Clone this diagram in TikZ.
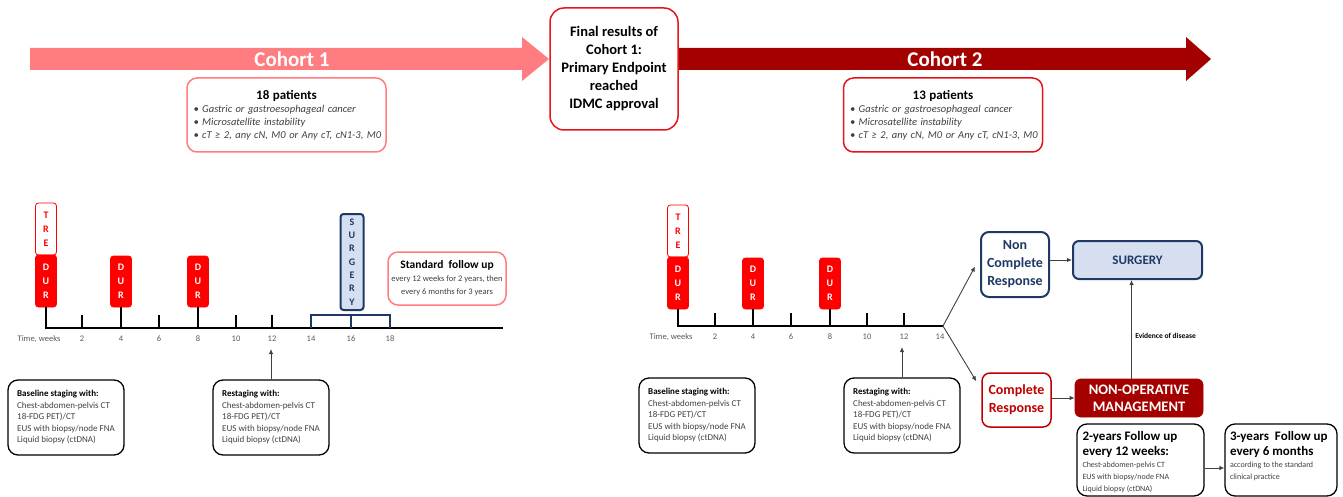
\documentclass[tikz,border=0pt]{standalone}
\usepackage{fontspec}
\setmainfont{Carlito}
\usepackage{xcolor}
\usepackage{tikz}
\usetikzlibrary{positioning}
\usetikzlibrary{arrows.meta}
\definecolor{salmon}{HTML}{FF7C80}
\definecolor{darkred}{HTML}{A50000}
\definecolor{brightred}{HTML}{FF0000}
\definecolor{crred}{HTML}{C00000}
\definecolor{boxred}{HTML}{E8141B}
\definecolor{navy}{HTML}{1F3864}
\definecolor{paleblue}{HTML}{D5DFF0}
\definecolor{textgray}{HTML}{404040}
\definecolor{tickgray}{HTML}{595959}
\tikzset{
    durbox/.style = {rectangle, rounded corners=3pt, draw=brightred, fill=brightred, text=white, align=center, font=\bfseries\fontsize{10}{14}\selectfont, minimum width=21pt, minimum height=52pt, inner sep=0pt},
    trebox/.style = {durbox, fill=white, text=brightred},
    surgbar/.style = {rectangle, rounded corners=3pt, draw=navy, line width=2pt, fill=paleblue, text=navy, align=center, font=\bfseries\fontsize{10}{13.3}\selectfont, minimum width=23pt, minimum height=96pt, inner sep=0pt},
    patbox/.style = {rectangle, rounded corners=10pt, line width=1.5pt, fill=white, text=textgray, minimum width=199pt, minimum height=74pt, text width=186pt, inner sep=0pt, font=\fontsize{10.5}{13}\selectfont},
    finalbox/.style = {rectangle, rounded corners=14pt, draw=boxred, line width=1.5pt, fill=white, align=center, font=\bfseries\fontsize{14.5}{18}\selectfont, minimum width=128pt, minimum height=122pt, inner sep=0pt},
    cohortlab/.style = {text=white, font=\bfseries\fontsize{21}{24}\selectfont, inner sep=0pt},
    stagebox/.style = {rectangle, rounded corners=10pt, draw=black, line width=1.3pt, text=textgray, align=left, font=\fontsize{9}{11.5}\selectfont, minimum width=116pt, minimum height=75pt, inner sep=2pt},
    fubox/.style = {rectangle, rounded corners=10pt, draw=black, line width=1.3pt, fill=white, minimum width=127pt, minimum height=72pt, inner sep=0pt},
    stdbox/.style = {rectangle, rounded corners=10pt, draw=salmon, line width=1.5pt, text=textgray, align=center, font=\fontsize{8.5}{13}\selectfont, minimum width=118pt, minimum height=53pt, inner sep=0pt},
    ncrbox/.style = {rectangle, rounded corners=8pt, draw=navy, line width=2pt, fill=white, text=navy, align=center, font=\bfseries\fontsize{14}{18}\selectfont, minimum width=68pt, minimum height=65pt, inner sep=0pt},
    crbox/.style = {rectangle, rounded corners=8pt, draw=crred, line width=1.5pt, fill=white, text=crred, align=center, font=\bfseries\fontsize{14}{18}\selectfont, minimum width=69pt, minimum height=54pt, inner sep=0pt},
    surgbox/.style = {rectangle, rounded corners=6pt, draw=navy, line width=2pt, fill=paleblue, text=navy, font=\bfseries\fontsize{13}{16}\selectfont, minimum width=129pt, minimum height=38pt, inner sep=0pt},
    nombox/.style = {rectangle, rounded corners=6pt, draw=darkred, fill=darkred, text=white, align=center, font=\bfseries\fontsize{14.5}{17}\selectfont, minimum width=128pt, minimum height=38pt, inner sep=0pt},
    ticklab/.style = {text=tickgray, font=\fontsize{8.5}{10}\selectfont, inner sep=0pt},
}

\begin{document}
\begin{tikzpicture}[
	x=1pt, y=-1pt,
	thick,
	font=\fontsize{9}{11}\selectfont
]
\tikzset{
    edgeg/.style = {-{Latex[length=5pt,width=4.5pt]}, line width=0.9pt, draw=black!75},
    edgen/.style = {-, line width=1.2pt, draw=black},
    edgeb/.style = {-, line width=2pt, draw=navy}
}
\useasboundingbox (0,0) rectangle (1343,497);
% cohort arrows
\fill[salmon] (30,48) -- (522,48) -- (522,37) -- (549,59) -- (522,81) -- (522,70) -- (30,70) -- cycle;
\fill[darkred] (670,48) -- (1186,48) -- (1186,37) -- (1211,59) -- (1186,81) -- (1186,70) -- (670,70) -- cycle;
\node[cohortlab] (c1) at (292,59) {Cohort 1};
\node[cohortlab] (c2) at (945,59) {Cohort 2};
\node[finalbox] (final) at (614,69) {Final results of\\Cohort 1:\\Primary Endpoint\\reached\\IDMC approval};
%
\node[patbox, draw=salmon] (pat1) at (286.5,115) {\centering{\bfseries\color{black}\fontsize{13}{15}\selectfont 18 patients}\par\raggedright\itshape
 • Gastric or gastroesophageal cancer\\ • Microsatellite instability\\ \mbox{• cT ≥ 2, any cN, M0 or Any cT, cN1-3, M0}};
\node[patbox, draw=boxred] (pat2) at (943,115) {\centering{\bfseries\color{black}\fontsize{13}{15}\selectfont 13 patients}\par\raggedright\itshape
 • Gastric or gastroesophageal cancer\\ • Microsatellite instability\\ \mbox{• cT ≥ 2, any cN, M0 or Any cT, cN1-3, M0}};
%
% cohort 1 timeline
\coordinate (axl) at (45,328);
\coordinate (axlend) at (503,328);
\draw[edgen] (axl) -- (axlend);
\node[trebox] (tre1) at (46,229) {T\\R\\E};
\node[durbox] (dur1a) at (46,281) {D\\U\\R};
\node[durbox, minimum height=51pt] (dur1b) at (121,281.5) {D\\U\\R};
\node[durbox, minimum height=51pt] (dur1c) at (198,281.5) {D\\U\\R};
\draw[edgen] (dur1a.south) -- (dur1a.south |- axl);
\draw[edgen] (dur1b.south) -- (dur1b.south |- axl);
\draw[edgen] (dur1c.south) -- (dur1c.south |- axl);
\draw[edgen] (82,315) -- (82,328);
\draw[edgen] (159,315) -- (159,328);
\draw[edgen] (236,315) -- (236,328);
\draw[edgen] (272,315) -- (272,328);
\draw[edgeb] (311,328) -- (311,315) -- (390,315) -- (390,328);
\draw[edgeb] (351,315) -- (351,328);
\node[surgbar] (surg1) at (352,262) {S\\U\\R\\G\\E\\R\\Y};
\node[ticklab] (tw1) at (39,339) {Time, weeks};
\node[ticklab] at (82,339) {2};
\node[ticklab] at (121,339) {4};
\node[ticklab] at (159,339) {6};
\node[ticklab] at (198,339) {8};
\node[ticklab] at (236,339) {10};
\node[ticklab] at (272,339) {12};
\node[ticklab] at (311,339) {14};
\node[ticklab] at (351,339) {16};
\node[ticklab] at (390,339) {18};
\node[stdbox] (std1) at (447,278.5) {{\bfseries\color{black}\fontsize{11.5}{14}\selectfont Standard\ \ follow up}\\every 12 weeks for 2 years, then\\every 6 months for 3 years};
%
\node[stagebox] (base1) at (66,417.5) {\textbf{\color{black}Baseline staging with:}\\Chest-abdomen-pelvis CT\\18-FDG PET)/CT\\EUS with biopsy/node FNA\\Liquid biopsy (ctDNA)};
\node[stagebox] (rest1) at (271,417.5) {\textbf{\color{black}Restaging with:}\\Chest-abdomen-pelvis CT\\18-FDG PET)/CT\\EUS with biopsy/node FNA\\Liquid biopsy (ctDNA)};
\coordinate (w12a) at (271,349);
\draw[edgeg] (rest1.north) -- (w12a);
%
% cohort 2 timeline
\coordinate (axr) at (677,326);
\coordinate (junc) at (943,326);
\draw[edgen] (axr) -- (junc);
\node[trebox] (tre2) at (678,231) {T\\R\\E};
\node[durbox] (dur2a) at (678,283) {D\\U\\R};
\node[durbox, minimum height=51pt] (dur2b) at (753,283.5) {D\\U\\R};
\node[durbox, minimum height=51pt] (dur2c) at (830,283.5) {D\\U\\R};
\draw[edgen] (dur2a.south) -- (dur2a.south |- axr);
\draw[edgen] (dur2b.south) -- (dur2b.south |- axr);
\draw[edgen] (dur2c.south) -- (dur2c.south |- axr);
\draw[edgen] (715,313) -- (715,326);
\draw[edgen] (791,313) -- (791,326);
\draw[edgen] (867,313) -- (867,326);
\draw[edgen] (904,313) -- (904,326);
\node[ticklab] (tw2) at (671,337) {Time, weeks};
\node[ticklab] at (715,337) {2};
\node[ticklab] at (753,337) {4};
\node[ticklab] at (791,337) {6};
\node[ticklab] at (830,337) {8};
\node[ticklab] at (867,337) {10};
\node[ticklab] at (904,337) {12};
\node[ticklab] at (940,337) {14};
%
\node[stagebox] (base2) at (697,415.5) {\textbf{\color{black}Baseline staging with:}\\Chest-abdomen-pelvis CT\\18-FDG PET)/CT\\EUS with biopsy/node FNA\\Liquid biopsy (ctDNA)};
\node[stagebox] (rest2) at (902,415.5) {\textbf{\color{black}Restaging with:}\\Chest-abdomen-pelvis CT\\18-FDG PET)/CT\\EUS with biopsy/node FNA\\Liquid biopsy (ctDNA)};
\coordinate (w12b) at (902,347);
\draw[edgeg] (rest2.north) -- (w12b);
%
\node[ncrbox] (ncr) at (1015,264.5) {Non\\Complete\\Response};
\node[crbox] (cr) at (1016.5,400) {Complete\\Response};
\node[surgbox] (surg2) at (1137.5,260) {SURGERY};
\node[nombox] (nom) at (1139,398) {NON-OPERATIVE\\MANAGEMENT};
\draw[edgeg] (junc) -- ([xshift=-5pt,yshift=-2pt]ncr.west);
\draw[edgeg] (junc) -- ([xshift=-5pt,yshift=-9pt]cr.north west);
\draw[edgeg] (ncr.east |- surg2.west) -- (surg2.west);
\draw[edgeg] (cr.east |- nom.west) -- (nom.west);
\draw[edgeg] ([xshift=-6pt]surg2.south |- nom.north) -- node[right, pos=0.43, text=black, font=\bfseries\fontsize{7.5}{9}\selectfont] {Evidence of disease} ([xshift=-6pt]surg2.south);
%
\node[fubox] (fu2) at (1140.5,460) {\parbox[c][66pt][t]{116pt}{\vspace*{4pt}\raggedright\bfseries\fontsize{13}{15}\selectfont 2-years Follow up\\every 12 weeks:\par\mdseries\color{textgray}\fontsize{8}{12}\selectfont Chest-abdomen-pelvis CT\\EUS with biopsy/node FNA\\Liquid biopsy (ctDNA)}};
\node[fubox, minimum width=112pt] (fu3) at (1281,460) {\parbox[c][66pt][t]{102pt}{\vspace*{4pt}\raggedright\bfseries\fontsize{13}{15}\selectfont 3-years\ \ Follow up\\every 6 months\par\mdseries\color{textgray}\fontsize{8}{12}\selectfont according to the standard\\clinical practice}};
\draw[edgeg] ([yshift=-8pt]fu2.east) -- ([yshift=-8pt]fu3.west);
\end{tikzpicture}
\end{document}
